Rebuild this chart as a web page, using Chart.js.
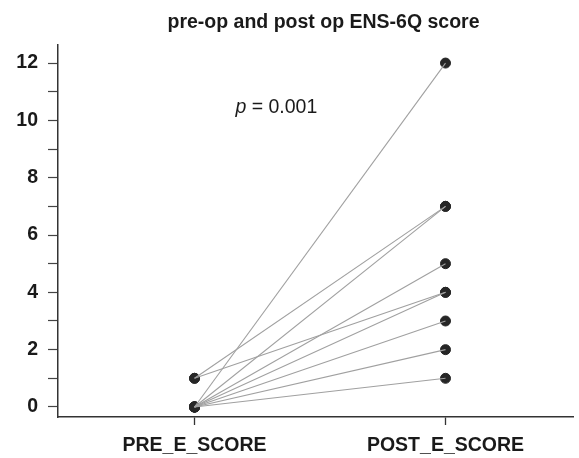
<!DOCTYPE html>
<html>
<head>
<meta charset="utf-8">
<script src="https://cdn.jsdelivr.net/npm/chart.js@4"></script>
<style>
html,body{margin:0;padding:0;background:#fff;}
#wrap{width:579px;height:458px;}
</style>
</head>
<body>
<div id="wrap"><canvas id="c" width="579" height="458"></canvas></div>
<script>
const categories = ["PRE_E_SCORE", "POST_E_SCORE"];
const preScores  = [0, 1, 0, 1, 0, 0, 0, 0, 0];
const postScores = [12, 7, 7, 4, 5, 4, 3, 2, 1];
const yTicks = [0,1,2,3,4,5,6,7,8,9,10,11,12];
const titleText = "pre-op and post op ENS-6Q score";
const pValueText = " = 0.001";

const FONT = '"Liberation Sans", Arial, sans-serif';

const lineSets = preScores.map((p, i) => ({
  data: [{x: 0, y: p}, {x: 1, y: postScores[i]}],
  showLine: true,
  borderColor: '#a0a0a0',
  borderWidth: 1.1,
  pointRadius: 0,
  pointHoverRadius: 0
}));
const pts = [];
preScores.forEach(p => pts.push({x: 0, y: p}));
postScores.forEach(p => pts.push({x: 1, y: p}));
const pointSet = {
  data: pts,
  showLine: false,
  pointRadius: 5,
  pointBackgroundColor: '#262626',
  pointBorderColor: '#262626',
  pointBorderWidth: 1
};

const annot = {
  id: 'annot',
  afterDraw(chart) {
    const ctx = chart.ctx;
    const ca = chart.chartArea;
    const xs = chart.scales.x, ys = chart.scales.y;
    ctx.save();
    ctx.fillStyle = '#1a1a1a';
    ctx.textBaseline = 'middle';
    ctx.textAlign = 'center';
    ctx.font = 'bold 19.5px ' + FONT;
    ctx.fillText(titleText, (ca.left + ca.right) / 2 + 8, 23);
    const px = xs.getPixelForValue(0.163);
    const py = ys.getPixelForValue(10.45);
    ctx.textAlign = 'left';
    ctx.font = 'italic 19.5px ' + FONT;
    ctx.fillText('p', px, py);
    const w = ctx.measureText('p').width;
    ctx.font = '19.5px ' + FONT;
    ctx.fillText(pValueText, px + w, py);
    ctx.restore();
  }
};

new Chart(document.getElementById('c'), {
  type: 'scatter',
  data: { datasets: [...lineSets, pointSet] },
  plugins: [annot],
  options: {
    responsive: false,
    animation: false,
    layout: { padding: { top: 45, right: 4, left: 0, bottom: 0 } },
    plugins: { legend: { display: false }, tooltip: { enabled: false }, title: { display: false } },
    scales: {
      x: {
        type: 'linear',
        min: -0.544,
        max: 1.508,
        afterBuildTicks(scale) { scale.ticks = [{value: 0}, {value: 1}]; },
        afterFit(scale) { scale.height = 41; },
        ticks: {
          callback: (v) => categories[v],
          color: '#1a1a1a',
          font: { family: FONT, size: 19.5, weight: 'bold' },
          padding: 9,
          maxRotation: 0
        },
        grid: { drawOnChartArea: false, drawTicks: true, tickLength: 8, tickColor: '#333', tickWidth: 1.3 },
        border: { color: '#333', width: 1.5 }
      },
      y: {
        type: 'linear',
        min: -0.35,
        max: 12.63,
        afterBuildTicks(scale) { scale.ticks = yTicks.map(v => ({value: v})); },
        afterFit(scale) { scale.width = 58; },
        ticks: {
          callback: (v) => (v % 2 === 0 ? String(v) : ''),
          color: '#1a1a1a',
          font: { family: FONT, size: 19.5, weight: 'bold' },
          padding: 10
        },
        grid: { drawOnChartArea: false, drawTicks: true, tickLength: 10, tickColor: '#444', tickWidth: 1.2 },
        border: { color: '#333', width: 1.5 }
      }
    }
  }
});
</script>
</body>
</html>
